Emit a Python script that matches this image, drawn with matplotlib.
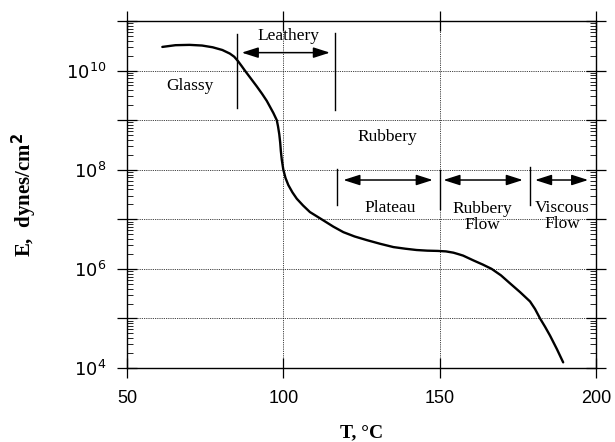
import matplotlib
matplotlib.use("Agg")
import matplotlib.pyplot as plt
from matplotlib.ticker import LogLocator, FixedLocator, NullFormatter

# ---- data ----
T = [61.3, 65.5, 70.0, 74.0, 77.4, 80.5, 82.9, 84.3, 85.5, 86.6, 87.7, 89.7, 91.5,
     93.2, 94.7, 96.8, 97.9, 98.3, 98.7, 99.0, 99.2, 99.5, 100.0, 100.7, 101.6,
     102.9, 104.3, 106.3, 108.5, 112.8, 116.0, 119.2, 122.8, 126.7, 131.0, 135.2,
     139.0, 142.6, 146.0, 149.4, 152.0, 154.4, 156.0, 157.5, 160.8, 163.8, 166.6,
     169.6, 172.5, 175.7, 178.9, 180.5, 182.1, 183.7, 185.3, 187.5, 189.5]
E = [3.0e10, 3.25e10, 3.3e10, 3.2e10, 2.95e10, 2.6e10, 2.2e10, 1.9e10, 1.55e10,
     1.25e10, 1.0e10, 6.8e9, 4.8e9, 3.4e9, 2.45e9, 1.4e9, 1.0e9, 7.5e8, 5.2e8,
     3.5e8, 2.4e8, 1.6e8, 1.0e8, 6.8e7, 4.9e7, 3.5e7, 2.6e7, 1.9e7, 1.4e7,
     9.5e6, 7.1e6, 5.5e6, 4.5e6, 3.8e6, 3.2e6, 2.75e6, 2.55e6, 2.4e6, 2.33e6,
     2.3e6, 2.25e6, 2.12e6, 1.98e6, 1.85e6, 1.48e6, 1.22e6, 1.0e6, 7.4e5, 5.1e5,
     3.4e5, 2.2e5, 1.55e5, 1.0e5, 6.8e4, 4.5e4, 2.4e4, 1.3e4]

x_ticks = [50, 100, 150, 200]
y_ticks = [1e4, 1e5, 1e6, 1e7, 1e8, 1e9, 1e10, 1e11]
y_labels = {1e4: "4", 1e6: "6", 1e8: "8", 1e10: "10"}

region_labels = ["Glassy", "Leathery", "Rubbery", "Plateau", "Rubbery\nFlow", "Viscous\nFlow"]
region_x = [70.1, 101.6, 133.4, 134.1, 163.7, 189.2]
region_y = [4.9e9, 5.0e10, 4.6e8, 1.7e7, 1.12e7, 1.18e7]

# boundary segments: x, y_low, y_high
bound_x = [85.3, 116.5, 117.1, 150.0, 178.9]
bound_lo = [1.78e9, 1.6e9, 1.9e7, 1.6e7, 1.9e7]
bound_hi = [5.5e10, 5.6e10, 1.05e8, 1.0e8, 1.15e8]

# double arrows: x_start, x_end, y
arrow_x0 = [86.7, 119.2, 151.2, 180.5]
arrow_x1 = [114.9, 147.8, 176.6, 197.5]
arrow_y = [2.3e10, 6.2e7, 6.2e7, 6.2e7]

# ---- figure ----
plt.rcParams['mathtext.fontset'] = 'custom'
plt.rcParams['mathtext.rm'] = 'Liberation Sans'
plt.rcParams['mathtext.default'] = 'regular'

fig = plt.figure(figsize=(6.15, 4.42), dpi=100)
ax = fig.add_axes([127/615, 1 - 368/442, 469/615, 347/442])

ax.plot(T, E, color='black', lw=1.7, solid_capstyle='round', solid_joinstyle='round')

ax.set_yscale('log')
ax.set_xlim(50, 200)
ax.set_ylim(1e4, 1e11)

ax.xaxis.set_major_locator(FixedLocator(x_ticks))
ax.yaxis.set_major_locator(FixedLocator(y_ticks))
ax.yaxis.set_minor_locator(LogLocator(base=10, subs=range(2, 10), numticks=20))
ax.yaxis.set_minor_formatter(NullFormatter())

ax.set_xticklabels([str(v) for v in x_ticks], fontfamily='Liberation Sans', fontsize=13)
ax.set_yticklabels([r"$10^{%s}$" % y_labels[v] if v in y_labels else "" for v in y_ticks],
                   fontsize=13)

ax.tick_params(axis='both', which='major', direction='inout', length=14, width=0.9,
               top=True, right=True)
ax.tick_params(axis='x', which='major', pad=9)
ax.tick_params(axis='y', which='major', pad=8)
ax.tick_params(axis='y', which='minor', direction='in', length=4, width=0.6,
               left=True, right=True)
for s in ax.spines.values():
    s.set_linewidth(1.0)

ax.grid(True, which='major', linestyle=(0, (1, 1.2)), color='black', lw=0.6)

serif = 'Liberation Serif'
for lab, xx, yy in zip(region_labels, region_x, region_y):
    ax.text(xx, yy, lab, ha='center', va='center', fontfamily=serif, fontsize=12.5,
            linespacing=1.0)

for xx, lo, hi in zip(bound_x, bound_lo, bound_hi):
    ax.plot([xx, xx], [lo, hi], color='black', lw=1.0)

for x0, x1, yy in zip(arrow_x0, arrow_x1, arrow_y):
    ax.annotate('', xy=(x1, yy), xytext=(x0, yy),
                arrowprops=dict(arrowstyle='<|-|>,head_length=1.0,head_width=0.32',
                                color='black', lw=1.1, shrinkA=0, shrinkB=0))

ax.set_ylabel("E,  dynes/cm$^{\\mathbf{2}}$", fontfamily=serif, fontweight='bold',
              fontsize=15, labelpad=20)
ax.set_xlabel("T, °C", fontfamily=serif, fontweight='bold', fontsize=14, labelpad=12)

fig.savefig("out.png", dpi=100)
